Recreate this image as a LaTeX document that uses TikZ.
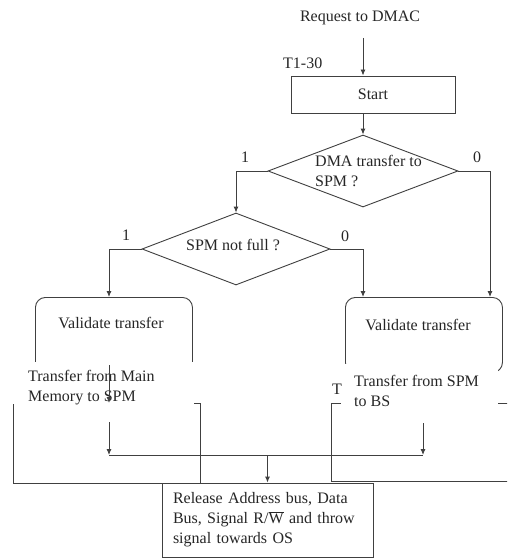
\documentclass[tikz,border=0pt]{standalone}
\usepackage{fontspec}
\setmainfont{Liberation Serif}
\usetikzlibrary{shapes.geometric,arrows.meta}
\begin{document}
\begin{tikzpicture}[x=1pt,y=-1pt,
  every node/.style={font=\fontsize{16}{20}\selectfont, text=black!85},
  ln/.style={draw=black!75, line width=0.9pt},
  arr/.style={ln, -{Latex[length=6pt,width=5pt]}},
  box/.style={ln, rectangle, inner sep=0pt},
  dia/.style={ln, diamond, inner sep=0pt},
  mask/.style={fill=white, inner sep=0pt, anchor=north west},
  txt/.style={inner sep=0pt, align=left, anchor=west}]
\clip (0,0) rectangle (507,559);
\fill[white] (0,0) rectangle (507,559);

% top
\node (req) at (360,18) {Request to DMAC};
\node[anchor=west, inner sep=0pt] (t130) at (283,63) {T1-30};
\node[box, minimum width=164pt, minimum height=37pt] (start) at (373,94.5) {Start};

% decisions
\node[dia, minimum width=190pt, minimum height=72pt] (dma) at (363,171) {};
\node[txt] (dmat) at (315,171) {DMA transfer to\\SPM ?};
\node[dia, minimum width=188pt, minimum height=72pt] (spm) at (236,249) {};
\node (spmt) at (233,245) {SPM not full ?};

\node (l1a) at (245,157) {1};
\node (l0a) at (477,157) {0};
\node (l1b) at (126,235) {1};
\node (l0b) at (345,236) {0};

% validate boxes
\node[box, rounded corners=10pt, minimum width=157pt, minimum height=75pt, anchor=north west] (vl) at (35,297) {};
\node[box, rounded corners=10pt, minimum width=157pt, minimum height=75pt, anchor=north west] (vr) at (345,297) {};
\node (vlt) at (111,323) {Validate transfer};
\node (vrt) at (418,325) {Validate transfer};

% transfer boxes
\node[box, minimum width=187pt, minimum height=80pt, anchor=north west] (tl) at (13,403) {};
\node[box, minimum width=200pt, minimum height=78pt, anchor=north west] (tr) at (331,403) {};

% white text areas
\node[mask, minimum width=183.5pt, minimum height=42pt] (ml) at (10,362) {};
\node[mask, minimum width=157pt, minimum height=39.6pt] (mr) at (341,364) {};
\node[txt] (tlt) at (28,387.5) {Transfer from Main\\Memory to SPM};
\node[txt] (trt) at (354,391) {Transfer from SPM\\to BS};
\node (tlab) at (337,389) {T};

% bottom box
\node[box, minimum width=211pt, minimum height=74pt, text width=189pt, inner xsep=11pt, align=left] (bot) at (267.5,520)
  {Release Address bus, Data\\Bus, Signal R/$\overline{\mbox{W}}$ and throw\\signal towards OS};

% helper coordinates
\coordinate (reqarr) at (363,38);
\coordinate (vlin) at (109,297);
\coordinate (vrin1) at (363,297);
\coordinate (vrin2) at (490,297);
\coordinate (a1) at (109,365);
\coordinate (a2) at (109,422);
\coordinate (jl) at (109,455);
\coordinate (a3) at (423,423);
\coordinate (jr) at (423,455);

% connectors
\draw[arr] (reqarr) -- (start.north -| reqarr);
\draw[arr] (start.south -| dma.north) -- (dma.north);
\draw[arr] (dma.west) -| (spm.north);
\draw[arr] (dma.east) -| (vrin2);
\draw[arr] (spm.west) -| (vlin);
\draw[arr] (spm.east) -| (vrin1);
\draw[arr] (a1) -- (tl.north -| a1);
\draw[arr] (a2) -- (jl);
\draw[arr] (a3) -- (jr);
\draw[ln] (jl) -- (jr);
\draw[arr] (jl -| bot.north) -- (bot.north);
\end{tikzpicture}
\end{document}
